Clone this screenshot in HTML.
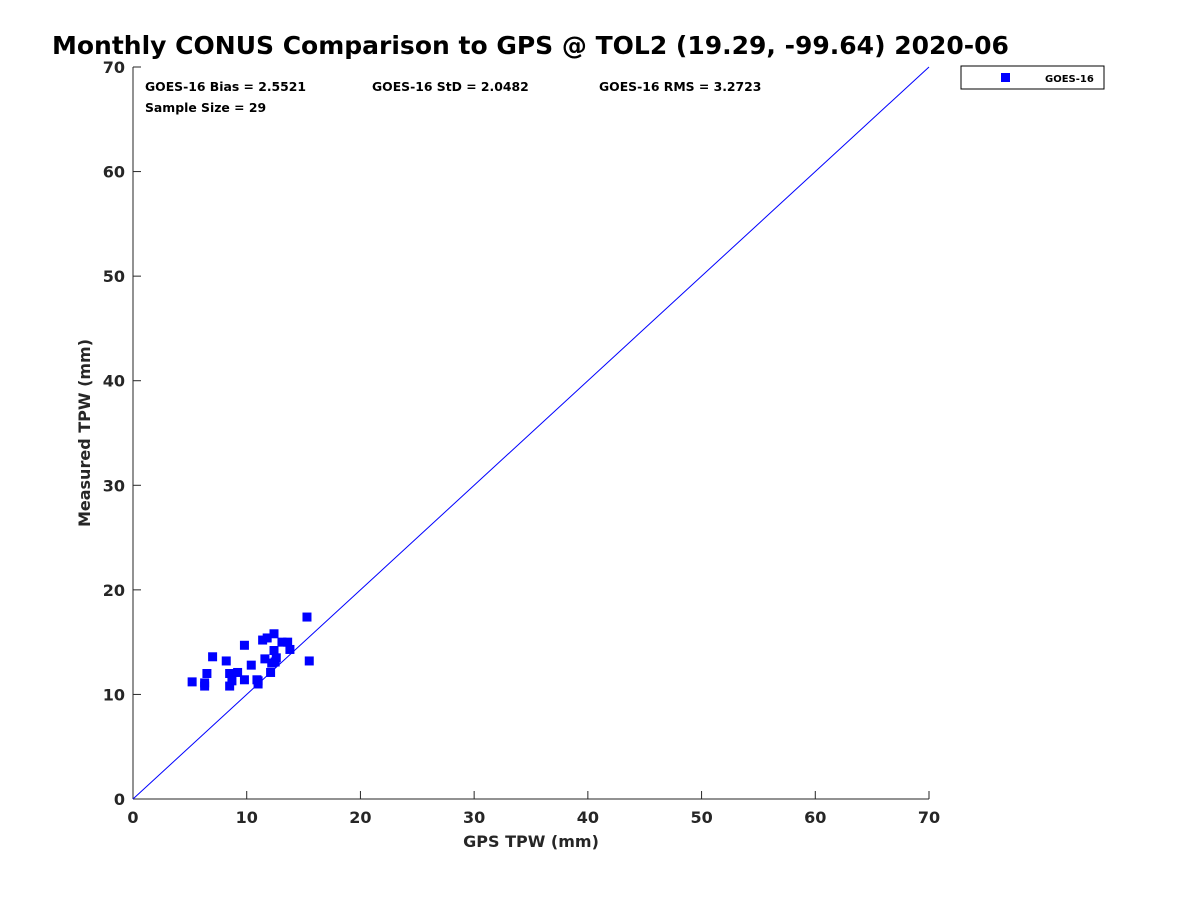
<!DOCTYPE html>
<html><head><meta charset="utf-8"><style>
body{margin:0;background:#fff;}
svg text{font-family:"DejaVu Sans","Liberation Sans",sans-serif;font-weight:bold;fill:#262626;}
</style></head><body>
<svg id="chart" width="1200" height="900" xmlns="http://www.w3.org/2000/svg">
<text x="52" y="54" font-size="25" style="fill:#000">Monthly CONUS Comparison to GPS @ TOL2 (19.29, -99.64) 2020-06</text>
<g id="axes"></g>
<g id="marks"></g>
<text x="145" y="91" font-size="12.4" style="fill:#000">GOES-16 Bias = 2.5521</text>
<text x="372" y="91" font-size="12.4" style="fill:#000">GOES-16 StD = 2.0482</text>
<text x="599" y="91" font-size="12.4" style="fill:#000">GOES-16 RMS = 3.2723</text>
<text x="145" y="112" font-size="12.4" style="fill:#000">Sample Size = 29</text>
<text x="531" y="847" font-size="16" text-anchor="middle">GPS TPW (mm)</text>
<text x="90" y="433" font-size="16" text-anchor="middle" transform="rotate(-90 90 433)">Measured TPW (mm)</text>
<g>
<rect x="961" y="66" width="143" height="23" fill="#fff" stroke="#000" stroke-width="1"/>
<rect x="1001" y="73" width="9" height="9" fill="#0000ff"/>
<text x="1045" y="82" font-size="10" style="fill:#000">GOES-16</text>
</g>
</svg>
<script>
const xs=[5.2,6.3,6.3,6.5,7.0,8.2,8.5,8.5,8.7,9.2,9.8,9.8,10.4,11.0,11.0,10.9,11.4,11.8,11.6,12.1,12.2,12.5,12.4,12.4,12.6,13.1,13.6,13.8,15.3,15.5];
const ys=[11.2,11.1,10.8,12.0,13.6,13.2,12.0,10.8,11.3,12.1,14.7,11.4,12.8,11.3,11.0,11.4,15.2,15.4,13.4,12.1,13.0,13.1,15.8,14.2,13.5,15.0,15.0,14.3,17.4,13.2];
const ticks=[0,10,20,30,40,50,60,70];
const NS="http://www.w3.org/2000/svg";
const X=v=>133+v*(929-133)/70, Y=v=>799-v*(799-67)/70;
const ax=document.getElementById('axes'), mk=document.getElementById('marks');
function el(t,a,p){const e=document.createElementNS(NS,t);for(const k in a)e.setAttribute(k,a[k]);p.appendChild(e);return e;}
const xl=el('line',{x1:133,y1:799,x2:929,y2:799,stroke:'#262626','stroke-width':1},ax);


const yl=el('line',{x1:133,y1:799,x2:133,y2:67,stroke:'#262626','stroke-width':1},ax);


ticks.forEach(t=>{
 el('line',{x1:X(t),y1:799,x2:X(t),y2:791,stroke:'#262626'},ax);
 el('line',{x1:133,y1:Y(t),x2:141,y2:Y(t),stroke:'#262626'},ax);
 const tx=el('text',{x:X(t),y:823,'font-size':16,'text-anchor':'middle'},ax);tx.textContent=t;
 
 
 const ty=el('text',{x:125,y:Y(t)+6,'font-size':16,'text-anchor':'end'},ax);ty.textContent=t;
 
 
});
const ol=el('line',{x1:X(0),y1:Y(0),x2:X(70),y2:Y(70),stroke:'#0000ff','stroke-width':1},mk);


xs.forEach((v,i)=>{
 const r=el('rect',{x:X(v)-4.5,y:Y(ys[i])-4.5,width:9,height:9,fill:'#0000ff'},mk);
 
 
});
</script>
</body></html>
